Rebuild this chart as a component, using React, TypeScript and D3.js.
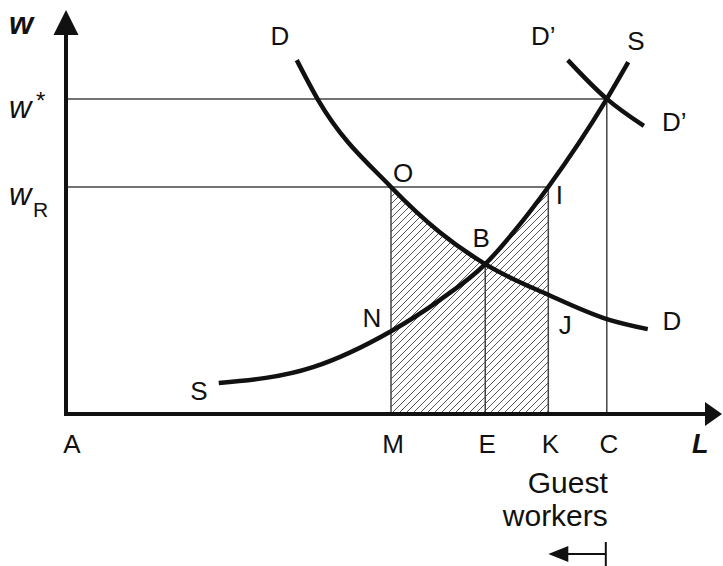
import React from 'react';
import * as d3 from 'd3';

// quantities (L on 0..100, w on 0..100)
const L_M = 50.0;
const L_E = 64.5;
const L_K = 74.2;
const L_C = 83.2;
const W_R = 56.2;
const W_STAR = 78.0;
const W_B = 37.1;

const supplyS: [number, number][] = [
  [23.5, 7.7], [38.0, 11.6], [50.0, 20.5], [57.5, 28.2], [64.5, 37.1],
  [69.1, 45.5], [74.2, 56.2], [83.2, 78.0], [86.5, 87.1],
];
const demandD: [number, number][] = [
  [35.5, 87.6], [38.8, 77.7], [50.0, 56.2], [57.5, 45.0], [64.5, 37.1],
  [74.2, 29.5], [83.2, 23.5], [89.5, 21.0],
];
const demandD2: [number, number][] = [
  [77.2, 87.6], [83.2, 78.0], [88.9, 71.3],
];
const bottomLabels: [string, number][] = [
  ['A', 0], ['M', L_M], ['E', L_E], ['K', L_K], ['C', L_C],
];

const W = 723;
const H = 566;
const FONT = '"Liberation Sans", Arial, sans-serif';

export default function App() {
  const x = d3.scaleLinear().domain([0, 100]).range([66, 716]);
  const y = d3.scaleLinear().domain([0, 100]).range([414, 10]);

  const line = d3
    .line<[number, number]>()
    .x((d) => x(d[0]))
    .y((d) => y(d[1]))
    .curve(d3.curveMonotoneX);
  const under = d3
    .area<[number, number]>()
    .x((d) => x(d[0]))
    .y0(y(0))
    .y1((d) => y(d[1]))
    .curve(d3.curveMonotoneX);

  const x0 = x(0);
  const y0 = y(0);
  const thin = { stroke: '#444', strokeWidth: 1.5 };
  const thick = { stroke: '#111', strokeWidth: 4.5, fill: 'none' };
  const lbl = { fontFamily: FONT, fontSize: 26, fill: '#111' };

  return (
    <svg
      width={W}
      height={H}
      style={{ position: 'absolute', left: 0, top: 0, background: '#fff' }}
    >
      <defs>
        <pattern id="hatch" patternUnits="userSpaceOnUse" width={7} height={7}>
          <path
            d="M-1,8 L8,-1 M-1,1 L1,-1 M6,8 L8,6"
            stroke="#444"
            strokeWidth={0.9}
          />
        </pattern>
        <clipPath id="clipME">
          <rect x={x(L_M)} y={y(W_R)} width={x(L_E) - x(L_M)} height={y0 - y(W_R)} />
        </clipPath>
        <clipPath id="clipEK">
          <rect x={x(L_E)} y={y(W_R)} width={x(L_K) - x(L_E)} height={y0 - y(W_R)} />
        </clipPath>
      </defs>

      {/* hatched area */}
      <g clipPath="url(#clipME)">
        <path d={under(demandD) || ''} fill="url(#hatch)" />
      </g>
      <g clipPath="url(#clipEK)">
        <path d={under(supplyS) || ''} fill="url(#hatch)" />
      </g>

      {/* guide lines */}
      <line x1={x0} x2={x(L_C)} y1={y(W_STAR)} y2={y(W_STAR)} {...thin} />
      <line x1={x0} x2={x(L_K)} y1={y(W_R)} y2={y(W_R)} {...thin} />
      <line x1={x(L_M)} x2={x(L_M)} y1={y0} y2={y(W_R)} {...thin} />
      <line x1={x(L_E)} x2={x(L_E)} y1={y0} y2={y(W_B)} {...thin} />
      <line x1={x(L_K)} x2={x(L_K)} y1={y0} y2={y(W_R)} {...thin} />
      <line x1={x(L_C)} x2={x(L_C)} y1={y0} y2={y(W_STAR)} {...thin} />

      {/* curves */}
      <path d={line(supplyS) || ''} {...thick} />
      <path d={line(demandD) || ''} {...thick} />
      <path d={line(demandD2) || ''} {...thick} />

      {/* axes */}
      <line x1={x0} x2={x0} y1={y0 + 2} y2={32} stroke="#111" strokeWidth={4} />
      <path d={`M${x0},10 L${x0 + 12.5},35 L${x0 - 12.5},35 Z`} fill="#111" />
      <line x1={x0 - 2} x2={707} y1={y0} y2={y0} stroke="#111" strokeWidth={4} />
      <path d={`M722,${y0} L705,${y0 - 12} L705,${y0 + 12} Z`} fill="#111" />

      {/* axis labels */}
      <text x={9} y={34} style={{ ...lbl, fontSize: 31, fontWeight: 'bold', fontStyle: 'italic' }}>w</text>
      <text x={9} y={y(W_STAR) + 19} style={{ ...lbl, fontSize: 31, fontStyle: 'italic' }}>w</text>
      <text x={36} y={y(W_STAR) + 10} style={{ ...lbl, fontSize: 24 }}>*</text>
      <text x={9} y={y(W_R) + 18} style={{ ...lbl, fontSize: 31, fontStyle: 'italic' }}>w</text>
      <text x={33} y={y(W_R) + 30} style={{ ...lbl, fontSize: 21 }}>R</text>
      <text x={692} y={453} style={{ ...lbl, fontSize: 27, fontWeight: 'bold', fontStyle: 'italic' }}>L</text>

      {bottomLabels.map(([t, v]) => (
        <text key={t} x={x(v) + (t === 'A' ? 6 : 2)} y={453} textAnchor="middle" style={lbl}>
          {t}
        </text>
      ))}

      {/* curve / point labels */}
      <text x={280} y={45} textAnchor="middle" style={lbl}>D</text>
      <text x={531} y={45} style={lbl}>D’</text>
      <text x={636} y={50} textAnchor="middle" style={lbl}>S</text>
      <text x={662} y={131} style={lbl}>D’</text>
      <text x={x(L_M) + 12} y={y(W_R) - 5} textAnchor="middle" style={lbl}>O</text>
      <text x={x(L_K) + 11} y={y(W_R) + 17} textAnchor="middle" style={lbl}>I</text>
      <text x={x(L_E) - 4} y={y(W_B) - 17} textAnchor="middle" style={lbl}>B</text>
      <text x={x(L_M) - 19} y={327} textAnchor="middle" style={lbl}>N</text>
      <text x={x(L_K) + 17} y={334} textAnchor="middle" style={lbl}>J</text>
      <text x={672} y={330} textAnchor="middle" style={lbl}>D</text>
      <text x={199} y={400} textAnchor="middle" style={lbl}>S</text>

      {/* guest workers note */}
      <text x={x(L_C) + 1} y={493} textAnchor="end" style={{ ...lbl, fontSize: 30 }}>Guest</text>
      <text x={x(L_C) + 1} y={526} textAnchor="end" style={{ ...lbl, fontSize: 30 }}>workers</text>
      <line x1={x(L_C) - 1} x2={x(L_C) - 1} y1={542} y2={566} stroke="#111" strokeWidth={2} />
      <line x1={x(L_K) + 15} x2={x(L_C) - 1} y1={554} y2={554} stroke="#111" strokeWidth={2} />
      <path d={`M${x(L_K)},554 L${x(L_K) + 20},546 L${x(L_K) + 20},562 Z`} fill="#111" />
    </svg>
  );
}
